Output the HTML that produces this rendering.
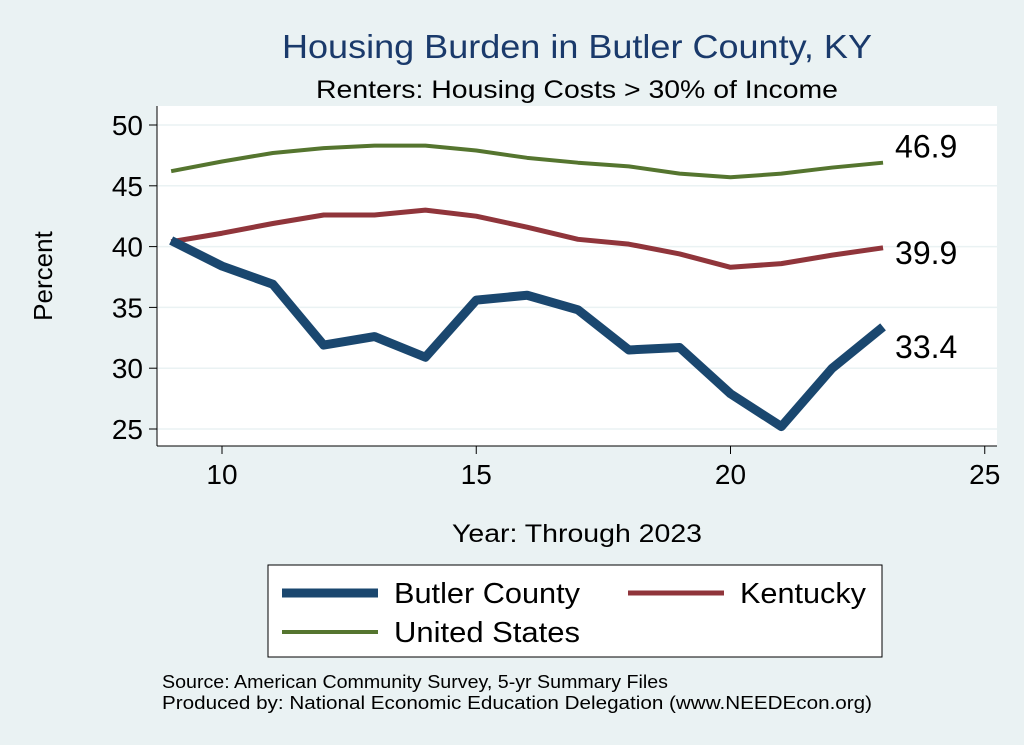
<!DOCTYPE html>
<html><head><meta charset="utf-8"><style>
body{margin:0;background:#eaf2f3;}
svg{display:block;font-family:"Liberation Sans",sans-serif;}
</style></head><body>
<svg id="chart" width="1024" height="745" viewBox="0 0 1024 745">
<rect width="1024" height="745" fill="#eaf2f3"/>
<text x="282" y="58" font-size="33" fill="#1a3a6b" textLength="590" lengthAdjust="spacingAndGlyphs">Housing Burden in Butler County, KY</text>
<text x="316" y="98" font-size="25" fill="#000" textLength="522" lengthAdjust="spacingAndGlyphs">Renters: Housing Costs &gt; 30% of Income</text>
<rect x="157" y="106" width="840" height="340" fill="#fff"/>
<g id="grid"></g>
<g id="axes"></g>
<g id="series"></g>
<text x="52" y="276" font-size="26" text-anchor="middle" transform="rotate(-90 52 276)">Percent</text>
<text x="452" y="542" font-size="25" textLength="250" lengthAdjust="spacingAndGlyphs">Year: Through 2023</text>
<g>
<rect x="268" y="565" width="614" height="92" fill="#fff" stroke="#000" stroke-width="1"/>
<line x1="282" y1="593" x2="378" y2="593" stroke="#1a476f" stroke-width="9"/>
<text x="394" y="603" font-size="29" textLength="186" lengthAdjust="spacingAndGlyphs">Butler County</text>
<line x1="628" y1="593" x2="724" y2="593" stroke="#90353b" stroke-width="5"/>
<text x="740" y="603" font-size="29" textLength="126" lengthAdjust="spacingAndGlyphs">Kentucky</text>
<line x1="282" y1="632" x2="378" y2="632" stroke="#55752f" stroke-width="4"/>
<text x="394" y="642" font-size="29" textLength="186" lengthAdjust="spacingAndGlyphs">United States</text>
</g>
<text x="162" y="688" font-size="18" textLength="506" lengthAdjust="spacingAndGlyphs">Source: American Community Survey, 5-yr Summary Files</text>
<text x="162" y="709" font-size="18" textLength="710" lengthAdjust="spacingAndGlyphs">Produced by: National Economic Education Delegation (www.NEEDEcon.org)</text>
</svg>
<script>
const years=[9,10,11,12,13,14,15,16,17,18,19,20,21,22,23];
const butler=[40.5,38.4,36.9,31.9,32.6,30.9,35.6,36.0,34.8,31.5,31.7,27.9,25.2,30.0,33.4];
const kentucky=[40.4,41.1,41.9,42.6,42.6,43.0,42.5,41.6,40.6,40.2,39.4,38.3,38.6,39.3,39.9];
const unitedStates=[46.2,47.0,47.7,48.1,48.3,48.3,47.9,47.3,46.9,46.6,46.0,45.7,46.0,46.5,46.9];
const xTicks=[10,15,20,25];
const yTicks=[25,30,35,40,45,50];
const NS="http://www.w3.org/2000/svg";
const X=v=>222+(v-10)*50.85;
const Y=v=>125+(50-v)*12.16;
function mk(tag,parent,attrs){const e=document.createElementNS(NS,tag);for(const k in attrs)e.setAttribute(k,attrs[k]);document.getElementById(parent).appendChild(e);return e;}
let l=mk('line','axes',{x1:157,y1:106,x2:157,y2:446,stroke:'#000','stroke-width':1});


l=mk('line','axes',{x1:157,y1:446,x2:997,y2:446,stroke:'#000','stroke-width':1});


yTicks.forEach(v=>{
 const g=mk('line','grid',{x1:157,x2:997,y1:Y(v),y2:Y(v),stroke:'#eaf2f3','stroke-width':1.5});
 
 
 const t=mk('line','axes',{x1:149,x2:157,y1:Y(v),y2:Y(v),stroke:'#000'});
 
 
 const tx=mk('text','axes',{x:143,y:Y(v)+10,'font-size':28,'text-anchor':'end'});tx.textContent=v;
 
 
});
xTicks.forEach(v=>{
 const t=mk('line','axes',{x1:X(v),x2:X(v),y1:446,y2:454,stroke:'#000'});
 
 
 const tx=mk('text','axes',{x:X(v),y:484,'font-size':28,'text-anchor':'middle'});tx.textContent=v;
 
 
});
function series(vals,color,w,name,dy){
 const p=mk('polyline','series',{points:vals.map((v,i)=>X(years[i])+','+Y(v)).join(' '),fill:'none',stroke:color,'stroke-width':w,'stroke-linejoin':'round'});
 
 
 const last=vals[vals.length-1];
 const t=mk('text','series',{x:X(years[years.length-1])+12,y:Y(last)+dy,'font-size':32});t.textContent=last.toFixed(1);
 
 
}
series(unitedStates,'#55752f',4,'us',-5);
series(kentucky,'#90353b',5,'kentucky',16);
series(butler,'#1a476f',9,'butler',31);
</script>
</body></html>
